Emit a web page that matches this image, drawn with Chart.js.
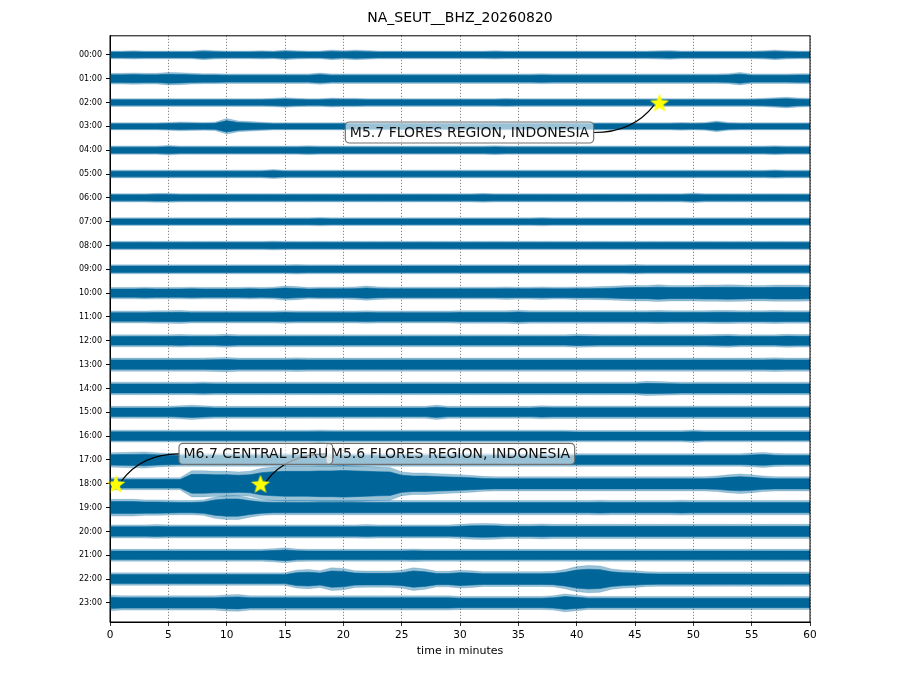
<!DOCTYPE html>
<html>
<head>
<meta charset="utf-8">
<title>NA_SEUT__BHZ_20260820</title>
<script src="https://cdn.jsdelivr.net/npm/chart.js@4.4.1/dist/chart.umd.min.js"></script>
<style>
  body { margin: 0; background: #fff; }
  canvas { display: block; }
</style>
</head>
<body>
<canvas id="dayplot" width="920" height="690"></canvas>
<script>
// one trace per hour
const hourLabels = ['00:00', '01:00', '02:00', '03:00', '04:00', '05:00', '06:00', '07:00',
  '08:00', '09:00', '10:00', '11:00', '12:00', '13:00', '14:00', '15:00',
  '16:00', '17:00', '18:00', '19:00', '20:00', '21:00', '22:00', '23:00'];

const minutes = [0, 1, 2, 3, 4, 5, 6, 7, 8, 9, 10, 11, 12, 13, 14, 15, 16, 17, 18, 19,
  20, 21, 22, 23, 24, 25, 26, 27, 28, 29, 30, 31, 32, 33, 34, 35, 36, 37, 38, 39,
  40, 41, 42, 43, 44, 45, 46, 47, 48, 49, 50, 51, 52, 53, 54, 55, 56, 57, 58, 59, 60];

const xTicks = [0, 5, 10, 15, 20, 25, 30, 35, 40, 45, 50, 55, 60];

// half amplitude of each trace per minute (100 = one hour row)
const envelope = [
  [13,13,14,13,13,13,13,13,16,14, 13,13,13,14,13,16,14,13,13,16, 14,16,15,13,13,13,13,13,13,13, 13,13,13,14,13,13,13,13,13,13, 13,13,13,13,13,13,13,14,15,13, 13,13,13,13,13,13,14,16,14,13, 13],
  [18,18,19,18,18,21,20,18,17,17, 16,16,16,16,16,16,16,16,19,16, 16,16,16,16,16,16,16,16,16,16, 16,16,16,16,16,16,16,17,16,16, 16,16,16,16,16,16,16,16,16,16, 16,16,16,17,21,16,16,16,16,17, 17],
  [13,13,13,13,13,13,13,13,13,13, 13,13,13,13,14,16,14,13,13,15, 14,14,13,13,13,13,13,13,13,13, 13,13,13,13,14,13,13,13,13,13, 13,13,13,13,13,13,13,13,13,13, 13,13,13,13,13,13,14,16,18,15, 14],
  [12,12,12,12,12,13,15,14,13,14, 26,18,16,14,12,12,12,12,12,12, 12,12,12,12,12,12,12,12,12,12, 12,12,12,12,12,12,12,12,12,12, 12,12,12,12,12,12,12,12,12,13, 12,13,18,13,12,12,12,12,12,12, 12],
  [14,14,14,14,14,16,14,14,14,14, 14,14,14,14,14,14,14,15,14,14, 14,14,14,14,14,14,14,14,14,14, 14,14,14,15,14,14,14,14,14,14, 14,14,14,14,14,14,14,14,14,14, 14,14,14,14,14,14,14,15,14,14, 14],
  [13,13,13,13,13,13,13,13,13,13, 13,13,13,13,15,13,13,13,13,13, 13,13,13,13,13,13,13,13,13,13, 13,13,13,13,13,13,13,13,13,13, 13,13,13,13,13,13,13,13,13,13, 13,13,13,13,13,13,13,14,13,13, 13],
  [14,14,14,14,15,15,14,14,14,14, 14,14,14,14,14,14,14,14,14,14, 14,14,14,14,14,14,14,14,14,14, 14,14,15,14,14,14,14,14,14,14, 14,14,14,14,14,14,14,14,14,14, 16,14,14,14,14,14,14,14,14,14, 14],
  [13,13,13,13,13,13,13,13,13,13, 13,13,13,13,13,13,13,13,14,13, 13,13,13,13,13,13,13,13,13,13, 13,13,13,13,13,13,13,14,13,13, 13,13,13,13,13,13,13,13,13,13, 13,13,13,13,13,13,13,13,13,13, 13],
  [14,14,14,14,14,14,14,14,14,14, 14,14,14,14,15,14,14,14,14,14, 14,14,14,14,14,14,14,14,14,14, 14,14,14,14,14,14,14,14,14,14, 14,14,14,14,14,14,14,14,14,14, 14,14,14,14,14,14,14,14,14,14, 14],
  [15,15,15,15,15,15,15,15,15,15, 15,15,15,15,15,15,16,15,15,15, 15,15,15,15,15,15,15,15,15,15, 15,15,15,15,15,15,15,15,15,15, 15,15,15,15,15,16,15,15,15,15, 15,15,15,15,15,15,15,15,15,15, 15],
  [19,19,19,20,19,19,19,20,19,19, 19,19,20,19,20,24,22,19,20,20, 20,21,24,21,20,20,20,20,20,20, 20,20,20,20,21,20,20,21,20,20, 21,21,22,23,25,26,26,28,26,26, 26,27,27,28,27,26,26,27,27,27, 26],
  [20,20,20,20,21,21,22,20,20,20, 20,20,20,20,20,21,20,20,20,20, 20,20,21,20,20,20,20,20,20,20, 21,21,21,21,21,23,21,21,21,21, 21,21,21,21,21,21,21,22,21,21, 21,21,22,22,21,21,21,22,21,21, 21],
  [20,20,20,20,20,20,21,20,20,20, 22,20,20,20,20,20,20,20,20,20, 20,20,20,20,20,20,20,20,20,20, 20,20,20,20,20,20,20,20,20,20, 22,21,20,20,20,20,20,20,20,20, 20,20,21,22,20,20,20,20,22,21, 21],
  [22,22,22,22,22,22,22,22,22,23, 24,22,22,22,22,22,23,22,22,22, 22,22,22,22,22,22,22,22,22,22, 22,22,22,22,22,22,22,22,22,22, 22,22,22,22,22,22,22,22,22,22, 22,22,22,22,22,22,22,23,22,22, 22],
  [21,21,21,21,21,21,21,21,22,21, 21,21,21,21,21,21,21,21,21,21, 21,21,21,21,21,21,21,21,21,21, 21,21,21,21,21,21,21,21,21,21, 21,21,21,21,21,21,24,23,22,21, 21,21,21,21,21,21,21,21,21,21, 21],
  [20,20,20,20,20,20,22,24,22,20, 20,20,20,20,20,20,20,20,20,20, 20,20,20,20,20,20,20,20,24,20, 20,20,20,20,20,20,20,22,21,21, 21,21,21,21,21,21,21,21,21,21, 21,21,21,21,21,21,21,21,21,21, 21],
  [20,20,20,20,20,20,20,20,20,20, 20,20,20,20,20,20,20,20,21,20, 20,20,20,20,20,20,20,20,20,20, 20,20,20,20,20,20,20,20,20,20, 19,19,19,19,19,19,19,19,19,19, 21,19,19,19,19,19,19,19,19,19, 19],
  [24,25,26,27,24,22,21,21,21,21, 21,21,21,21,21,21,21,21,21,21, 21,21,21,21,21,21,21,21,21,21, 21,21,21,21,21,21,21,21,21,21, 21,21,21,21,21,21,21,21,21,21, 21,21,21,21,21,23,25,22,21,21, 21],
  [20,20,20,20,20,20,20,44,44,42, 42,40,42,52,56,58,58,58,60,60, 62,60,58,56,55,40,36,36,34,32, 30,28,25,24,24,24,24,24,24,24, 24,24,24,24,24,24,24,24,24,24, 24,24,26,30,33,30,26,24,24,24, 24],
  [28,28,28,26,26,25,24,24,26,36, 40,40,32,26,24,24,24,24,24,24, 24,24,24,24,24,24,24,24,24,24, 24,24,24,24,24,24,24,24,24,24, 24,24,25,24,24,24,24,24,24,25, 24,24,24,24,24,24,24,24,24,24, 24],
  [22,22,22,22,23,22,22,22,22,22, 22,22,22,22,22,22,22,22,22,22, 22,22,23,22,22,22,22,22,22,22, 24,26,27,26,24,24,24,25,24,24, 24,24,24,24,24,24,24,24,24,24, 24,24,24,24,24,24,24,24,24,24, 24],
  [20,20,20,20,20,20,20,20,20,20, 20,20,20,20,22,25,21,20,20,20, 20,20,20,20,20,20,21,20,20,20, 20,20,20,20,20,20,20,20,20,20, 20,20,20,20,20,20,20,20,20,20, 20,20,20,20,20,20,20,20,20,20, 20],
  [21,21,21,21,21,21,21,21,21,21, 21,21,21,21,21,21,30,32,28,38, 36,28,27,27,27,30,38,34,26,26, 30,28,25,25,25,25,25,25,26,32, 42,46,44,34,30,28,25,24,24,24, 24,24,24,24,24,24,24,24,24,24, 24],
  [26,24,24,24,24,24,24,24,24,24, 27,28,24,24,24,24,24,24,24,24, 24,24,24,24,24,24,24,24,24,24, 22,22,22,22,22,22,22,22,24,30, 26,22,22,22,22,22,22,22,22,22, 22,22,22,22,22,22,22,22,22,22, 22]
];

const eventNames = ['M5.7 FLORES REGION, INDONESIA', 'M6.7 CENTRAL PERU', 'M5.6 FLORES REGION, INDONESIA'];
const eventMinute = [47.1, 0.5, 12.9];
const eventHour = [2, 18, 18];

const traceColor = '#00669a';
const fringeColor = 'rgba(0,102,154,0.4)';

Chart.defaults.font.family = '"DejaVu Sans", sans-serif';
Chart.defaults.color = '#000';

// yellow five-point star used as the event marker
function makeStar(r) {
  const c = document.createElement('canvas');
  c.width = c.height = Math.ceil(r * 2 + 2);
  const g = c.getContext('2d');
  const m = c.width / 2;
  g.beginPath();
  for (let k = 0; k < 10; k++) {
    const rad = k % 2 === 0 ? r : r * 0.42;
    const a = -Math.PI / 2 + k * Math.PI / 5;
    g.lineTo(m + rad * Math.cos(a), m + 1 + rad * Math.sin(a));
  }
  g.closePath();
  g.fillStyle = '#ffff00';
  g.fill();
  return c;
}

// each hour: a light outer band and a solid inner band around the row
const datasets = [];
envelope.forEach((amp, row) => {
  const band = (k, color, lw) => {
    datasets.push({
      data: minutes.map((m, i) => ({ x: m, y: row - k * amp[i] / 100 })),
      borderColor: color, borderWidth: lw, fill: false
    });
    datasets.push({
      data: minutes.map((m, i) => ({ x: m, y: row + k * amp[i] / 100 })),
      borderColor: color, borderWidth: lw, backgroundColor: color, fill: '-1'
    });
  };
  band(1.25, fringeColor, 0.5);
  band(0.9, traceColor, 0.6);
});
datasets.push({
  type: 'scatter',
  order: -1,
  data: eventMinute.map((m, i) => ({ x: m, y: eventHour[i] })),
  pointStyle: makeStar(10),
  pointRadius: 10,
  clip: false
});

const notesPlugin = {
  id: 'notes',
  // datasets are painted from last to first, so index 0 is the last trace
  afterDatasetDraw(chart, args, opts) {
    if (args.index !== 0) return;
    const { ctx, scales: { x, y } } = chart;
    ctx.save();
    ctx.font = '14px "DejaVu Sans"';
    const boxes = eventNames.map((name, i) => {
      const sx = x.getPixelForValue(eventMinute[i]);
      const sy = y.getPixelForValue(eventHour[i]);
      const L = opts.layout[i];
      const w = ctx.measureText(name).width + 9, h = 21;
      return { name, sx, sy, w, h, side: L.side,
        left: sx + L.dx - w / 2, top: sy + L.dy - h / 2 };
    });

    // curved connectors from box to star
    boxes.forEach(b => {
      const ax = b.side === 'right' ? b.left + b.w : b.left;
      const ay = b.top + b.h / 2;
      const dx = b.sx - ax, dy = b.sy - ay, len = Math.hypot(dx, dy);
      const ex = b.sx - dx / len * 6, ey = b.sy - dy / len * 6;
      ctx.beginPath();
      ctx.moveTo(ax, ay);
      ctx.quadraticCurveTo(ax + 0.65 * (ex - ax), ay, ex, ey);
      ctx.strokeStyle = '#000';
      ctx.lineWidth = 1.2;
      ctx.stroke();
    });

    for (let i = boxes.length - 1; i >= 0; i--) {
      const b = boxes[i];
      ctx.beginPath();
      ctx.roundRect(b.left, b.top, b.w, b.h, 4);
      ctx.fillStyle = 'rgba(255,255,255,0.6)';
      ctx.fill();
      ctx.strokeStyle = '#707070';
      ctx.lineWidth = 1.2;
      ctx.stroke();
      ctx.fillStyle = '#111';
      ctx.textBaseline = 'middle';
      ctx.fillText(b.name, b.left + 4.5, b.top + b.h / 2 + 0.5);
    }
    ctx.restore();
  },
  afterDraw(chart) {
    const { ctx, chartArea: a } = chart;
    ctx.save();
    ctx.strokeStyle = '#000';
    ctx.lineWidth = 1;
    ctx.strokeRect(a.left, a.top, a.right - a.left, a.bottom - a.top);
    ctx.restore();
  }
};

new Chart(document.getElementById('dayplot'), {
  type: 'line',
  data: { datasets },
  plugins: [notesPlugin],
  options: {
    responsive: false,
    animation: false,
    devicePixelRatio: 1,
    events: [],
    layout: { padding: 0 },
    elements: { point: { radius: 0 }, line: { tension: 0 } },
    plugins: {
      legend: { display: false },
      tooltip: { enabled: false },
      title: {
        display: true,
        text: 'NA_SEUT__BHZ_20260820',
        font: { size: 14, weight: 'normal' },
        color: '#000',
        padding: { top: 10, bottom: 9 }
      },
      notes: {
        layout: [
          { dx: -190, dy: 30, side: 'right' },
          { dx: 140, dy: -30, side: 'left' },
          { dx: 190, dy: -30, side: 'left' }
        ]
      }
    },
    scales: {
      x: {
        type: 'linear',
        min: 0,
        max: 60,
        afterBuildTicks: s => { s.ticks = xTicks.map(v => ({ value: v })); },
        afterFit: s => { s.height = 68; },
        ticks: { font: { size: 10.5 }, padding: 3, maxRotation: 0 },
        grid: {
          color: '#444', lineWidth: 0.8,
          tickColor: '#000', tickLength: 4, tickBorderDash: []
        },
        border: { color: '#000', width: 1, dash: [1, 2] },
        title: {
          display: true,
          text: 'time in minutes',
          font: { size: 11 },
          padding: { top: 0, bottom: 32 }
        }
      },
      y: {
        type: 'linear',
        reverse: true,
        min: -0.8,
        max: 23.8,
        afterBuildTicks: s => { s.ticks = hourLabels.map((_, i) => ({ value: i })); },
        afterFit: s => { s.width = 110; },
        ticks: { font: { size: 8 }, padding: 4, callback: v => hourLabels[v] },
        grid: { drawOnChartArea: false, tickColor: '#000', tickLength: 4 },
        border: { color: '#000', width: 1 }
      },
      // empty right-hand margin so the plot is centred like the original
      yMargin: {
        type: 'linear',
        position: 'right',
        display: true,
        afterFit: s => { s.width = 110; },
        ticks: { display: false },
        grid: { display: false },
        border: { display: false }
      }
    }
  }
});
</script>
</body>
</html>
